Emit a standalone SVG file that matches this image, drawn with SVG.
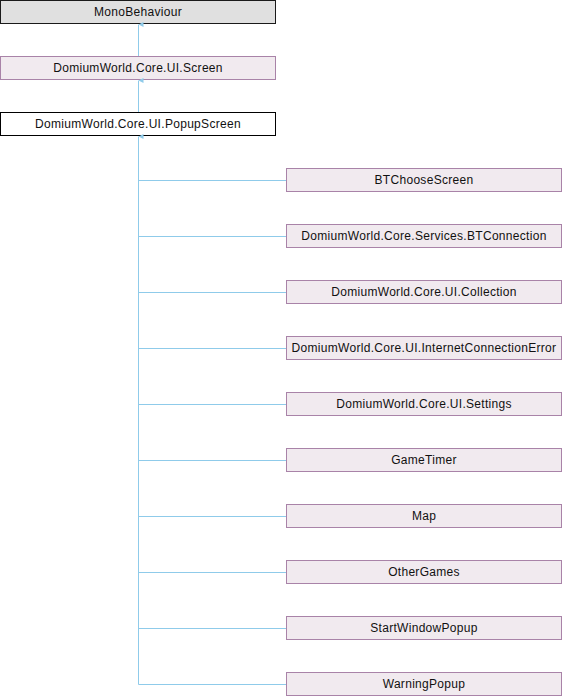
<svg xmlns="http://www.w3.org/2000/svg" width="562" height="696" viewBox="0 0 562 696">
<style>
text{font-family:"Liberation Sans",Arial,sans-serif;font-size:12px;letter-spacing:0.3px;fill:#111;text-anchor:middle}
.cls rect{fill:#F1EAEF;stroke:#A983A8;stroke-width:1}
.ext rect{fill:#E0E0E0;stroke:#1a1a1a;stroke-width:1}
.cur rect{fill:#FFFFFF;stroke:#000;stroke-width:1}
.edge{stroke:#8FCBEA;stroke-width:1;fill:none}
</style>
<defs>
<marker id="arr" viewBox="0 0 6 6" refX="3" refY="0" markerWidth="6" markerHeight="6" markerUnits="userSpaceOnUse" orient="auto-start-reverse">
<path d="M3,0 L5.5,5 L0.5,5 Z" fill="#8FCBEA"/>
</marker>
</defs>
<g id="MonoBehaviour" class="ext"><rect x="0.5" y="0.5" width="275" height="23"/><text x="138" y="15.5">MonoBehaviour</text></g>
<g id="Screen" class="cls"><rect x="0.5" y="56.5" width="275" height="23"/><text x="138" y="71.5">DomiumWorld.Core.UI.Screen</text></g>
<g id="PopupScreen" class="cur"><rect x="0.5" y="112.5" width="275" height="23"/><text x="138" y="127.5">DomiumWorld.Core.UI.PopupScreen</text></g>
<g id="BTChooseScreen" class="cls"><rect x="286.5" y="168.5" width="275" height="23"/><text x="424" y="183.5">BTChooseScreen</text></g>
<g id="BTConnection" class="cls"><rect x="286.5" y="224.5" width="275" height="23"/><text x="424" y="239.5">DomiumWorld.Core.Services.BTConnection</text></g>
<g id="Collection" class="cls"><rect x="286.5" y="280.5" width="275" height="23"/><text x="424" y="295.5">DomiumWorld.Core.UI.Collection</text></g>
<g id="InternetConnectionError" class="cls"><rect x="286.5" y="336.5" width="275" height="23"/><text x="424" y="351.5">DomiumWorld.Core.UI.InternetConnectionError</text></g>
<g id="Settings" class="cls"><rect x="286.5" y="392.5" width="275" height="23"/><text x="424" y="407.5">DomiumWorld.Core.UI.Settings</text></g>
<g id="GameTimer" class="cls"><rect x="286.5" y="448.5" width="275" height="23"/><text x="424" y="463.5">GameTimer</text></g>
<g id="Map" class="cls"><rect x="286.5" y="504.5" width="275" height="23"/><text x="424" y="519.5">Map</text></g>
<g id="OtherGames" class="cls"><rect x="286.5" y="560.5" width="275" height="23"/><text x="424" y="575.5">OtherGames</text></g>
<g id="StartWindowPopup" class="cls"><rect x="286.5" y="616.5" width="275" height="23"/><text x="424" y="631.5">StartWindowPopup</text></g>
<g id="WarningPopup" class="cls"><rect x="286.5" y="672.5" width="275" height="23"/><text x="424" y="687.5">WarningPopup</text></g>
<g id="connectors">
<path class="edge" d="M138.5,56 L138.5,24.5" marker-end="url(#arr)"/>
<path class="edge" d="M138.5,112 L138.5,80.5" marker-end="url(#arr)"/>
<path class="edge" d="M138.5,684.5 L138.5,136.5" marker-end="url(#arr)"/>
<path class="edge" d="M138.5,180.5 H286 M138.5,236.5 H286 M138.5,292.5 H286 M138.5,348.5 H286 M138.5,404.5 H286 M138.5,460.5 H286 M138.5,516.5 H286 M138.5,572.5 H286 M138.5,628.5 H286 M138.5,684.5 H286"/>
</g>
</svg>
